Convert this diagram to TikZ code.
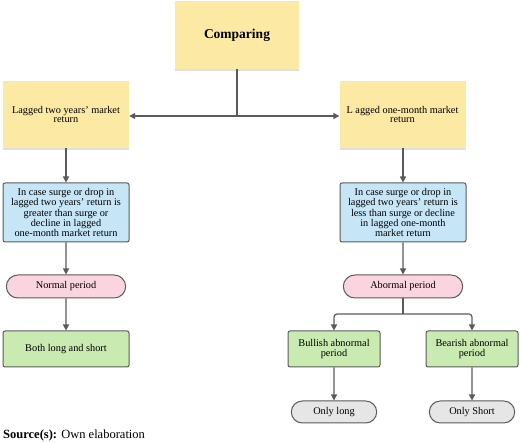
\documentclass[tikz,border=0pt]{standalone}
\usepackage{fontspec}
\setmainfont{Liberation Serif}
\usetikzlibrary{positioning, arrows.meta, shapes.misc, shadows}

\definecolor{notey}{HTML}{FCE9A3}
\definecolor{condb}{HTML}{C6E6F7}
\definecolor{periodp}{HTML}{FAD4DF}
\definecolor{actg}{HTML}{C9EAB1}
\definecolor{resg}{HTML}{E6E6E6}
\definecolor{linec}{HTML}{5A5A5A}

\begin{document}
\begin{tikzpicture}[x=1pt, y=-1pt,
note/.style={rectangle, fill=notey, minimum width=126pt, minimum height=67pt, align=center, inner sep=2pt, font=\fontsize{10.3}{9.4}\selectfont, drop shadow={shadow xshift=0pt, shadow yshift=-2pt, opacity=0.25}},
cond/.style={rectangle, rounded corners=2pt, draw=linec, line width=1pt, fill=condb, minimum width=126pt, minimum height=59pt, align=center, inner sep=1pt, font=\fontsize{10.3}{9}\selectfont},
period/.style={rounded rectangle, draw=linec, line width=1pt, fill=periodp, minimum width=126pt, minimum height=23pt, font=\fontsize{10.3}{9}\selectfont},
act/.style={rectangle, rounded corners=2pt, draw=linec, line width=1pt, fill=actg, minimum height=36pt, align=center, inner sep=1pt, font=\fontsize{10.3}{9.4}\selectfont},
res/.style={rounded rectangle, draw=linec, line width=1pt, fill=resg, minimum width=92pt, minimum height=22pt, font=\fontsize{10.3}{9}\selectfont},
arr/.style={draw=linec, line width=1.2pt, -{Stealth[slant=0, inset=0pt, length=6pt, width=6pt]}}
]
\useasboundingbox (0,0) rectangle (520,443);

\node[note, minimum width=124pt, minimum height=68pt, font=\fontsize{13.5}{15}\selectfont\bfseries] (cmp) at (237,35) {Comparing};
\node[note] (lagtwo) at (66,114.5) {Lagged two years' market\\return};
\node[note] (lagone) at (402.5,114.5) {L agged one-month market\\return};

\node[cond] (condtwo) at (66,212.5) {In case surge or drop in\\lagged two years' return is\\greater than surge or\\decline in lagged\\one-month market return};
\node[cond] (condone) at (403,212.5) {In case surge or drop in\\lagged two years' return is\\less than surge or decline\\in lagged one-month\\market return};

\node[period] (normal) at (66,286.5) {Normal period};
\node[period] (abnormal) at (403,286.5) {Abormal period};

\node[act, minimum width=126pt] (both) at (66,349) {Both long and short};
\node[act, minimum width=92pt] (bull) at (334,349) {Bullish abnormal\\period};
\node[act, minimum width=92pt] (bear) at (472,349) {Bearish abnormal\\period};

\node[res] (onlylong) at (334,412) {Only long};
\node[res] (onlyshort) at (472,412) {Only Short};

\node[anchor=west, inner sep=0pt, font=\fontsize{12.5}{14}\selectfont] (src) at (3,435) {\textbf{Source(s):} Own elaboration};

% top fork
\coordinate (fork) at (237,116);
\draw[draw=linec, line width=1.2pt] (cmp.south) -- (fork);
\path[arr] (fork) -- (fork -| lagtwo.east);
\path[arr] (fork) -- (fork -| lagone.west);

% left column
\path[arr] (lagtwo) -- (condtwo);
\path[arr] (condtwo) -- (normal);
\path[arr] (normal) -- (both);

% right column
\path[arr] (lagone.south -| condone) -- (condone);
\path[arr] (condone) -- (abnormal);
\coordinate (split) at (403,314);
\draw[draw=linec, line width=1.2pt] (abnormal.south) -- (split);
\path[arr, rounded corners=3pt] (split) -| (bull.north);
\path[arr, rounded corners=3pt] (split) -| (bear.north);
\path[arr] (bull) -- (onlylong);
\path[arr] (bear) -- (onlyshort);
\end{tikzpicture}
\end{document}
